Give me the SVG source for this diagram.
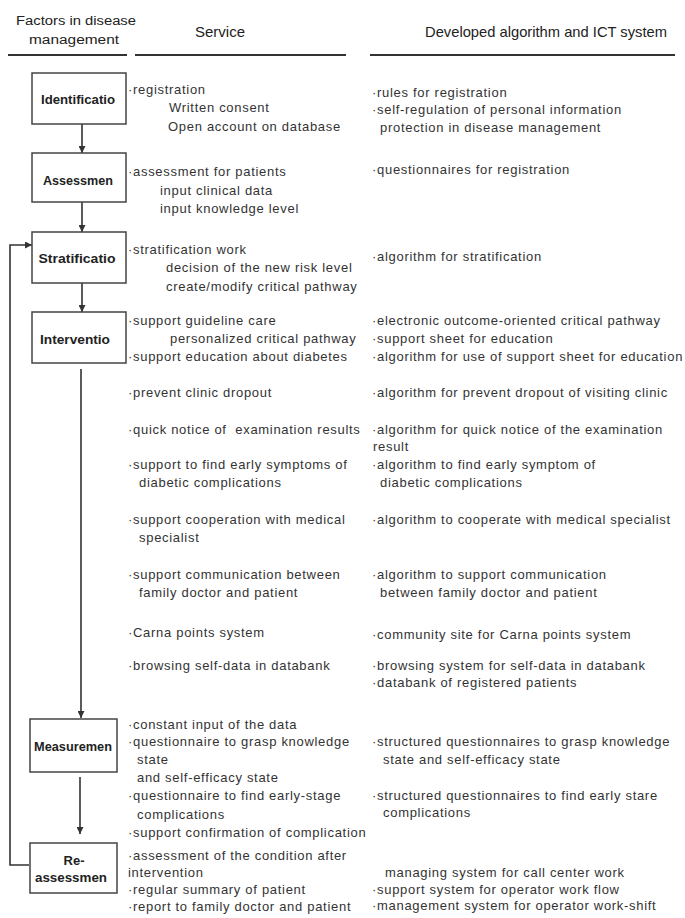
<svg xmlns="http://www.w3.org/2000/svg" width="685" height="918" viewBox="0 0 685 918">
<style>
.t{font-family:"Liberation Sans",Arial,sans-serif;font-size:13px;letter-spacing:0.7px;fill:#333}
.h{font-family:"Liberation Sans",Arial,sans-serif;fill:#222}
.b{font-family:"Liberation Sans",Arial,sans-serif;font-weight:bold;font-size:13px;fill:#222;text-anchor:middle}
.box{fill:#fff;stroke:#444;stroke-width:1.5}
.ln{fill:none;stroke:#333;stroke-width:1.6}
.hl{stroke:#333;stroke-width:2}
</style>
<defs>
<marker id="ah" viewBox="0 0 10 10" refX="10" refY="5" markerWidth="7" markerHeight="7" markerUnits="userSpaceOnUse" orient="auto">
<path d="M0,0 L10,5 L0,10 z" fill="#333"/>
</marker>
</defs>
<rect width="685" height="918" fill="#fff"/>
<g id="header">
<text class="h" x="76" y="25" font-size="12" text-anchor="middle" textLength="120" lengthAdjust="spacingAndGlyphs">Factors in disease</text>
<text class="h" x="74" y="44" font-size="12" text-anchor="middle" textLength="90" lengthAdjust="spacingAndGlyphs">management</text>
<text class="h" x="195" y="37" font-size="15">Service</text>
<text class="h" x="425" y="37" font-size="15" textLength="242" lengthAdjust="spacingAndGlyphs">Developed algorithm and ICT system</text>
<line class="hl" x1="8" y1="55" x2="127" y2="55"/>
<line class="hl" x1="135" y1="55" x2="346" y2="55"/>
<line class="hl" x1="370" y1="55" x2="675" y2="55"/>
</g>
<g id="connectors">
<line class="ln" x1="82" y1="124" x2="82" y2="153" marker-end="url(#ah)"/>
<line class="ln" x1="82" y1="202" x2="82" y2="232" marker-end="url(#ah)"/>
<line class="ln" x1="82" y1="283" x2="82" y2="312" marker-end="url(#ah)"/>
<line class="ln" x1="81" y1="369" x2="81" y2="718" marker-end="url(#ah)"/>
<line class="ln" x1="80" y1="777" x2="80" y2="834" marker-end="url(#ah)"/>
<polyline class="ln" points="29,865 10,865 10,245 32,245" marker-end="url(#ah)"/>
</g>
<g id="identification">
<rect class="box" x="32" y="73" width="94" height="51"/>
<text class="b" x="78" y="104" textLength="74" lengthAdjust="spacingAndGlyphs">Identificatio</text>
</g>
<g id="assessment">
<rect class="box" x="32" y="153" width="94" height="49"/>
<text class="b" x="78" y="185" textLength="70" lengthAdjust="spacingAndGlyphs">Assessmen</text>
</g>
<g id="stratification">
<rect class="box" x="32" y="232" width="94" height="51"/>
<text class="b" x="77" y="263" textLength="77" lengthAdjust="spacingAndGlyphs">Stratificatio</text>
</g>
<g id="intervention">
<rect class="box" x="32" y="312" width="94" height="51"/>
<text class="b" x="75" y="344" textLength="70" lengthAdjust="spacingAndGlyphs">Interventio</text>
</g>
<g id="measurement">
<rect class="box" x="30" y="719" width="87" height="53"/>
<text class="b" x="73" y="751" font-size="12" textLength="78" lengthAdjust="spacingAndGlyphs">Measuremen</text>
</g>
<g id="reassessment">
<rect class="box" x="30" y="843" width="87" height="50"/>
<text class="b" x="74" y="865" font-weight="normal" font-size="14">Re-</text>
<text class="b" x="71" y="882" font-size="10" textLength="72" lengthAdjust="spacingAndGlyphs">assessmen</text>
</g>
<g id="service">
<text class="t" x="128" y="94">·registration</text>
<text class="t" x="169" y="112">Written consent</text>
<text class="t" x="168" y="131">Open account on database</text>
<text class="t" x="128" y="176">·assessment for patients</text>
<text class="t" x="160" y="195">input clinical data</text>
<text class="t" x="160" y="213">input knowledge level</text>
<text class="t" x="128" y="254">·stratification work</text>
<text class="t" x="166" y="272">decision of the new risk level</text>
<text class="t" x="166" y="291">create/modify critical pathway</text>
<text class="t" x="128" y="325">·support guideline care</text>
<text class="t" x="170" y="343">personalized critical pathway</text>
<text class="t" x="128" y="361">·support education about diabetes</text>
<text class="t" x="128" y="397">·prevent clinic dropout</text>
<text class="t" x="128" y="434" xml:space="preserve">·quick notice of  examination results</text>
<text class="t" x="128" y="469">·support to find early symptoms of</text>
<text class="t" x="139" y="487">diabetic complications</text>
<text class="t" x="128" y="524">·support cooperation with medical</text>
<text class="t" x="139" y="542">specialist</text>
<text class="t" x="128" y="579">·support communication between</text>
<text class="t" x="139" y="597">family doctor and patient</text>
<text class="t" x="128" y="637">·Carna points system</text>
<text class="t" x="128" y="670">·browsing self-data in databank</text>
<text class="t" x="128" y="729">·constant input of the data</text>
<text class="t" x="128" y="746">·questionnaire to grasp knowledge</text>
<text class="t" x="137" y="764">state</text>
<text class="t" x="137" y="782">and self-efficacy state</text>
<text class="t" x="128" y="800">·questionnaire to find early-stage</text>
<text class="t" x="137" y="819">complications</text>
<text class="t" x="128" y="837">·support confirmation of complication</text>
<text class="t" x="128" y="860">·assessment of the condition after</text>
<text class="t" x="128" y="877">intervention</text>
<text class="t" x="128" y="894">·regular summary of patient</text>
<text class="t" x="128" y="911">·report to family doctor and patient</text>
</g>
<g id="ict">
<text class="t" x="372" y="97">·rules for registration</text>
<text class="t" x="372" y="114">·self-regulation of personal information</text>
<text class="t" x="380" y="132">protection in disease management</text>
<text class="t" x="372" y="174">·questionnaires for registration</text>
<text class="t" x="372" y="261">·algorithm for stratification</text>
<text class="t" x="372" y="325">·electronic outcome-oriented critical pathway</text>
<text class="t" x="372" y="343">·support sheet for education</text>
<text class="t" x="372" y="361">·algorithm for use of support sheet for education</text>
<text class="t" x="372" y="397">·algorithm for prevent dropout of visiting clinic</text>
<text class="t" x="372" y="434">·algorithm for quick notice of the examination</text>
<text class="t" x="373" y="451">result</text>
<text class="t" x="372" y="469">·algorithm to find early symptom of</text>
<text class="t" x="380" y="487">diabetic complications</text>
<text class="t" x="372" y="524">·algorithm to cooperate with medical specialist</text>
<text class="t" x="372" y="579">·algorithm to support communication</text>
<text class="t" x="380" y="597">between family doctor and patient</text>
<text class="t" x="372" y="639">·community site for Carna points system</text>
<text class="t" x="372" y="670">·browsing system for self-data in databank</text>
<text class="t" x="372" y="687">·databank of registered patients</text>
<text class="t" x="372" y="746">·structured questionnaires to grasp knowledge</text>
<text class="t" x="383" y="764">state and self-efficacy state</text>
<text class="t" x="372" y="800">·structured questionnaires to find early stare</text>
<text class="t" x="383" y="817">complications</text>
<text class="t" x="385" y="877">managing system for call center work</text>
<text class="t" x="372" y="894">·support system for operator work flow</text>
<text class="t" x="372" y="910">·management system for operator work-shift</text>
</g>
</svg>
